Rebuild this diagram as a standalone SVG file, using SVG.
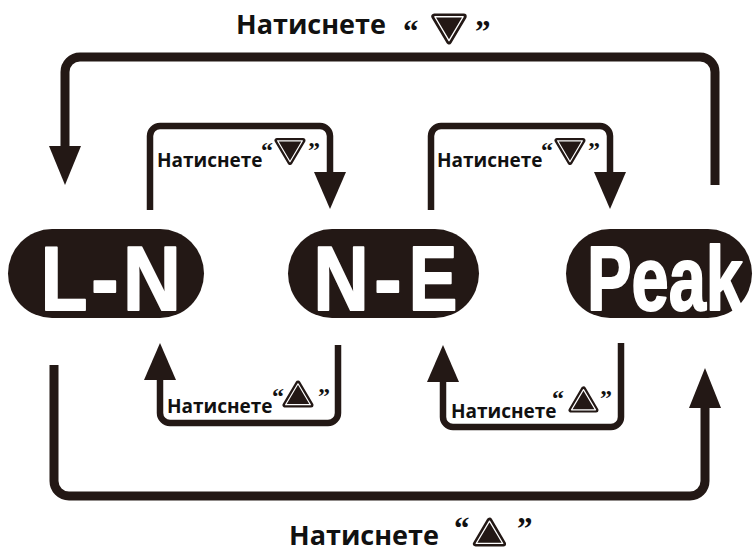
<svg xmlns="http://www.w3.org/2000/svg" xmlns:xlink="http://www.w3.org/1999/xlink" width="753" height="554" viewBox="0 0 753 554">
  <style>
    .bg { fill: #ffffff; }
    .line { fill: none; stroke: #231815; stroke-linecap: butt; stroke-linejoin: round; }
    .big { stroke-width: 9; }
    .small { stroke-width: 6.5; }
    .head { fill: #231815; }
    .pill { fill: #231815; }
    .mode { fill: #ffffff; font-family: "Liberation Sans", Arial, sans-serif; font-weight: 700; font-size: 91px; stroke: #ffffff; stroke-width: 2; stroke-linejoin: round; }
    .lbl { fill: #111111; font-family: "Open Sans", "Noto Sans", sans-serif; font-weight: 700; }
    .lbl-l { font-size: 27px; }
    .lbl-s { font-size: 19px; }
    .q { fill: #111111; font-family: "Liberation Serif", "Times New Roman", serif; font-weight: 700; }
    .q-l { font-size: 31px; }
    .q-s { font-size: 24px; }
  </style>
  <defs>
    <!-- rounded key triangle: dark body, thin light inner rim -->
    <symbol id="key-down" viewBox="0 0 32 28">
      <path d="M3,3 H29 L16,25 Z" fill="#231815" stroke="#231815" stroke-width="5" stroke-linejoin="round"/>
      <path d="M3.6,3.3 H28.4 L16,24.2 Z" fill="#231815" stroke="#ffffff" stroke-width="1.2" stroke-linejoin="round"/>
    </symbol>
    <symbol id="key-up" viewBox="0 0 32 28">
      <path d="M3,25 H29 L16,3 Z" fill="#231815" stroke="#231815" stroke-width="5" stroke-linejoin="round"/>
      <path d="M3.6,24.7 H28.4 L16,3.8 Z" fill="#231815" stroke="#ffffff" stroke-width="1.2" stroke-linejoin="round"/>
    </symbol>
  </defs>

  <rect class="bg" x="0" y="0" width="753" height="554"/>

  <!-- connectors -->
  <g id="connectors">
    <!-- outer loop: Peak back to L-N -->
    <path class="line big" d="M715,185 V72 A15,15 0 0 0 700,57 H80 A15,15 0 0 0 65,72 V147"/>
    <polygon class="head" points="49,146 81,146 65,185"/>
    <!-- outer loop: L-N forward to Peak -->
    <path class="line big" d="M54,365 V481 A15,15 0 0 0 69,496 H690 A15,15 0 0 0 705,481 V407"/>
    <polygon class="head" points="689,408 721,408 705,368"/>
    <!-- L-N to N-E -->
    <path class="line small" d="M150,210 V136 A10,10 0 0 1 160,126 H320 A10,10 0 0 1 330,136 V173"/>
    <polygon class="head" points="314,172 346,172 330,209"/>
    <!-- N-E to Peak -->
    <path class="line small" d="M431,210 V136 A10,10 0 0 1 441,126 H600 A10,10 0 0 1 610,136 V173"/>
    <polygon class="head" points="594,172 626,172 610,209"/>
    <!-- N-E back to L-N -->
    <path class="line small" d="M338,345 V413 A10,10 0 0 1 328,423 H170 A10,10 0 0 1 160,413 V379"/>
    <polygon class="head" points="144,380 176,380 160,343"/>
    <!-- Peak back to N-E -->
    <path class="line small" d="M621,343 V417 A10,10 0 0 1 611,427 H453 A10,10 0 0 1 443,417 V381"/>
    <polygon class="head" points="427,382 459,382 443,345"/>
  </g>

  <!-- mode nodes -->
  <g id="node-ln">
    <rect class="pill" x="8" y="229" width="196" height="89" rx="44" ry="44.5"/>
    <text class="mode" transform="translate(64,310) scale(0.84,1)" text-anchor="middle">L</text>
    <text class="mode" transform="translate(105,310) scale(0.9,1)" text-anchor="middle">-</text>
    <text class="mode" transform="translate(152,310) scale(0.88,1)" text-anchor="middle">N</text>
  </g>
  <g id="node-ne">
    <rect class="pill" x="288" y="229" width="191" height="89" rx="44" ry="44.5"/>
    <text class="mode" transform="translate(341,310) scale(0.84,1)" text-anchor="middle">N</text>
    <text class="mode" transform="translate(388,310) scale(0.9,1)" text-anchor="middle">-</text>
    <text class="mode" transform="translate(433,310) scale(0.8,1)" text-anchor="middle">E</text>
  </g>
  <g id="node-peak">
    <rect class="pill" x="566" y="229" width="186" height="89" rx="44" ry="44.5"/>
    <text class="mode" x="587" y="310" textLength="156" lengthAdjust="spacingAndGlyphs">Peak</text>
  </g>

  <!-- key labels -->
  <g id="label-top">
    <text class="lbl lbl-l" x="236" y="34">Натиснете</text>
    <text class="q q-l" x="403" y="42">“</text>
    <use xlink:href="#key-down" x="430" y="13" width="38" height="32"/>
    <text class="q q-l" x="475" y="42">”</text>
  </g>
  <g id="label-ln-ne">
    <text class="lbl lbl-s" x="157" y="167">Натиснете</text>
    <text class="q q-s" x="261" y="158">“</text>
    <use xlink:href="#key-down" x="274" y="137" width="32" height="29"/>
    <text class="q q-s" x="308" y="158">”</text>
  </g>
  <g id="label-ne-peak">
    <text class="lbl lbl-s" x="437" y="167">Натиснете</text>
    <text class="q q-s" x="541" y="158">“</text>
    <use xlink:href="#key-down" x="554" y="137" width="32" height="29"/>
    <text class="q q-s" x="588" y="158">”</text>
  </g>
  <g id="label-ne-ln">
    <text class="lbl lbl-s" x="167" y="413">Натиснете</text>
    <text class="q q-s" x="272" y="404">“</text>
    <use xlink:href="#key-up" x="282" y="379" width="32" height="30"/>
    <text class="q q-s" x="318" y="404">”</text>
  </g>
  <g id="label-peak-ne">
    <text class="lbl lbl-s" x="451" y="418">Натиснете</text>
    <text class="q q-s" x="552" y="406">“</text>
    <use xlink:href="#key-up" x="568" y="385" width="31" height="29"/>
    <text class="q q-s" x="600" y="406">”</text>
  </g>
  <g id="label-bottom">
    <text class="lbl lbl-l" x="289" y="545">Натиснете</text>
    <text class="q q-l" x="454" y="539">“</text>
    <use xlink:href="#key-up" x="472" y="517" width="35" height="30"/>
    <text class="q q-l" x="517" y="539">”</text>
  </g>
</svg>
